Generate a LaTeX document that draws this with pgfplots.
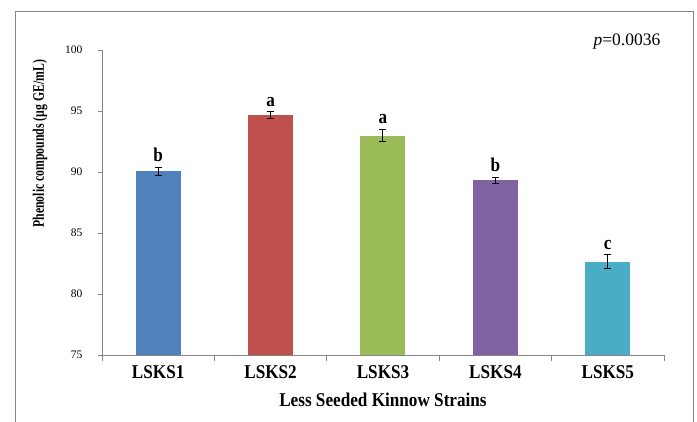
\documentclass[border=0pt]{standalone}
\usepackage{fontspec}
\setmainfont{Liberation Serif}
\newfontfamily\condfont[FakeStretch=0.88]{Liberation Serif}
\newfontfamily\ylabfont[FakeStretch=0.735]{Liberation Serif}
\usepackage{pgfplots}
\pgfplotsset{compat=1.18}
\definecolor{c1}{RGB}{79,129,189}
\definecolor{c2}{RGB}{192,80,77}
\definecolor{c3}{RGB}{155,187,89}
\definecolor{c4}{RGB}{128,100,162}
\definecolor{c5}{RGB}{75,172,198}
\definecolor{axgray}{RGB}{134,134,134}
\begin{document}
\begin{tikzpicture}
\useasboundingbox (-102pt,-66pt) rectangle (595pt,355pt);
\draw[color=axgray, line width=0.8pt] (-87pt,-80pt) -- (-87pt,344pt) -- (591pt,344pt) -- (591pt,-80pt);
\begin{axis}[
  scale only axis, width=562pt, height=305pt,
  xmin=0.5, xmax=5.5, ymin=75, ymax=100,
  axis x line*=bottom, axis y line*=left,
  axis line style={-, color=axgray, line width=0.8pt},
  every tick/.style={color=axgray, line width=0.8pt},
  tick align=outside,
  ytick={75,80,...,100},
  xtick={1,2,3,4,5},
  xticklabels={LSKS1,LSKS2,LSKS3,LSKS4,LSKS5},
  minor xtick={0.5,1.5,2.5,3.5,4.5,5.5},
  major x tick style={draw=none},
  major tick length=4pt, minor tick length=6pt,
  /pgf/number format/assume math mode=true,
  yticklabel style={font=\fontsize{11.5}{13}\selectfont, anchor=east, xshift=-12pt},
  xticklabel style={font=\condfont\bfseries\fontsize{19.5}{20}\selectfont, anchor=center, yshift=-13pt},
  xlabel={Less Seeded Kinnow Strains},
  xlabel style={font=\condfont\bfseries\fontsize{19.5}{20}\selectfont, at={(axis description cs:0.5,0)}, anchor=center, yshift=-45pt},
  ylabel={Phenolic compounds (µg GE/mL)},
  ylabel style={font=\ylabfont\bfseries\fontsize{16}{17}\selectfont, at={(axis description cs:-0.11,0.693)}, anchor=center},
  ybar, bar width=45pt, bar shift=0pt,
  clip=false,
  error bars/y dir=both, error bars/y explicit,
  error bars/error bar style={black, line width=1pt},
  error bars/error mark options={rotate=90, mark size=3.5pt, black, line width=1pt},
]
\addplot[fill=c1, draw=none] coordinates {(1,90.05) +- (0,0.35)};
\addplot[fill=c2, draw=none] coordinates {(2,94.67) +- (0,0.27)};
\addplot[fill=c3, draw=none] coordinates {(3,92.98) +- (0,0.52)};
\addplot[fill=c4, draw=none] coordinates {(4,89.33) +- (0,0.24)};
\addplot[fill=c5, draw=none] coordinates {(5,82.65) +- (0,0.55)};
\begin{scope}[every node/.style={font=\condfont\bfseries\fontsize{19.5}{20}\selectfont, anchor=south, inner sep=0pt, yshift=5pt}]
\node at (axis cs:1,90.40) {b};
\node at (axis cs:2,94.94) {a};
\node at (axis cs:3,93.50) {a};
\node at (axis cs:4,89.57) {b};
\node at (axis cs:5,83.20) {c};
\end{scope}
\end{axis}
\node[font=\fontsize{17.5}{18}\selectfont, anchor=center] at (525pt,313pt) {\textit{p}=0.0036};
\end{tikzpicture}
\end{document}
